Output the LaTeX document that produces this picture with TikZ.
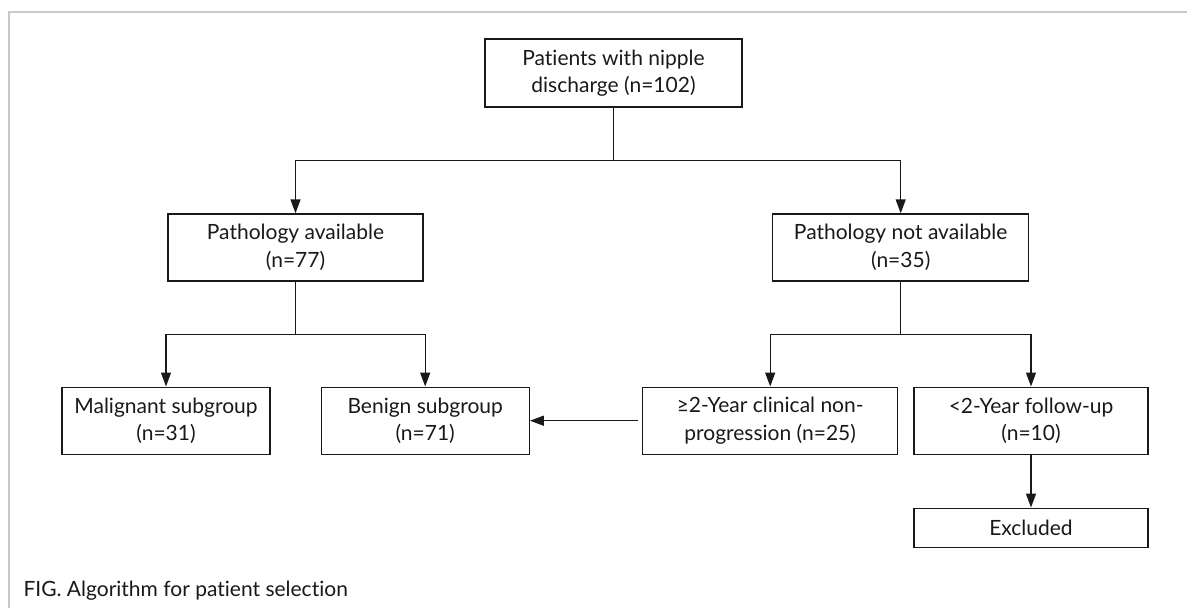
\documentclass[tikz,border=0pt]{standalone}
\usepackage{fontspec}
\setmainfont{Lato}[Ligatures={NoCommon,NoRare}]
\usetikzlibrary{arrows.meta}
\definecolor{framegray}{RGB}{200,200,200}
\definecolor{ink}{RGB}{25,25,25}
\begin{document}
\begin{tikzpicture}[x=1pt,y=-1pt,
  box/.style={draw=ink, text=ink, line width=1.4pt, inner sep=0pt, align=center,
              font=\fontsize{21}{27.5}\selectfont},
  arr/.style={draw=ink, -{Triangle[length=14pt,width=10pt]}, line width=1.4pt},
  ln/.style={draw=ink, line width=1.4pt}]
\useasboundingbox (0,0) rectangle (1187,608);
\draw[framegray, line width=2pt] (1187,11.7) -- (8.5,11.7) -- (8.5,608);

\node[box, minimum width=257pt, minimum height=68pt] (top) at (613.5,73) {Patients with nipple\\discharge (n=102)};
\node[box, minimum width=255pt, minimum height=67pt] (pa) at (295.5,247.5) {Pathology available\\(n=77)};
\node[box, minimum width=256pt, minimum height=67pt] (pna) at (900.7,247.5) {Pathology not available\\(n=35)};
\node[box, minimum width=208pt, minimum height=67pt] (mal) at (166,420.7) {Malignant subgroup\\(n=31)};
\node[box, minimum width=208pt, minimum height=67pt] (ben) at (425.2,420.7) {Benign subgroup\\(n=71)};
\node[box, minimum width=255pt, minimum height=67pt] (two) at (770.2,420.7) {≥2-Year clinical non-\\progression (n=25)};
\node[box, minimum width=234pt, minimum height=67pt] (lt) at (1031,420.7) {<2-Year follow-up\\(n=10)};
\node[box, minimum width=234pt, minimum height=39.5pt] (exc) at (1031,528) {Excluded};

\node[anchor=base west, inner sep=0pt, text=ink, font=\fontsize{21}{25}\selectfont] (cap) at (23.3,596) {FIG. Algorithm for patient selec\kern0pt tion};

\coordinate (j1) at (0,160.7);
\coordinate (j2) at (0,334.3);

\draw[arr] (top.south) -- (top.south |- j1) -| (pa.north);
\draw[arr] (top.south |- j1) -| (pna.north);
\draw[arr] (pa.south) -- (pa.south |- j2) -| (mal.north);
\draw[arr] (pa.south |- j2) -| (ben.north);
\draw[arr] (pna.south) -- (pna.south |- j2) -| (two.north);
\draw[arr] (pna.south |- j2) -| (lt.north);
\draw[arr] ([xshift=-4pt]two.west) -- (ben.east);
\draw[arr] (lt.south) -- (exc.north);
\end{tikzpicture}
\end{document}
